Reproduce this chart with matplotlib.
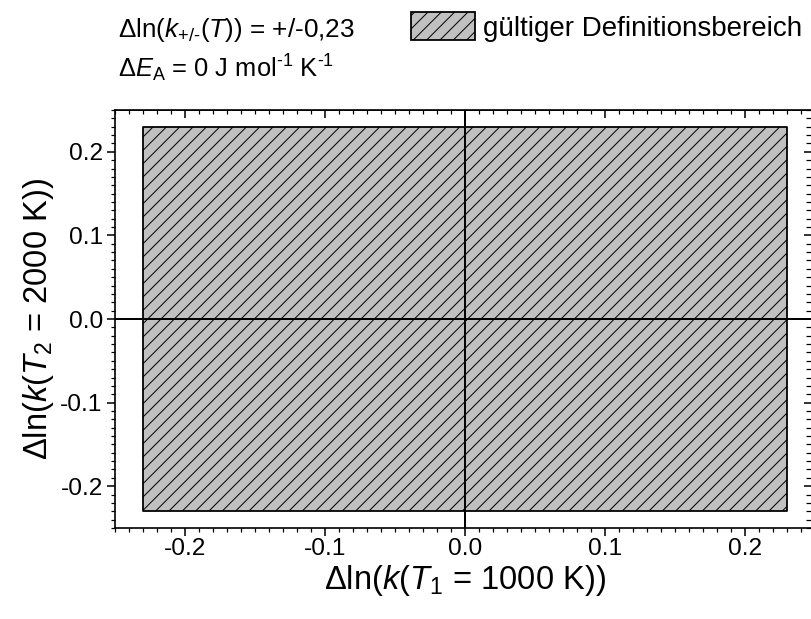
import matplotlib
matplotlib.use("Agg")
import matplotlib.pyplot as plt
from matplotlib.ticker import MultipleLocator

# data
delta_k = 0.23                  # +/- range of ln k
x_range = [-delta_k, delta_k]
y_lower = [-delta_k, -delta_k]
y_upper = [delta_k, delta_k]
x_limits = (-0.25, 0.25)
y_limits = (-0.25, 0.25)
x_ticks = [-0.2, -0.1, 0.0, 0.1, 0.2]
y_ticks = [-0.2, -0.1, 0.0, 0.1, 0.2]
line1 = r"$\Delta$ln($k_{\text{+/-}}$($T$)) = +/-0,23"
line2 = r"$\Delta E_{\mathrm{A}}$ = 0 J mol$^{\text{-1}}$ K$^{\text{-1}}$"
legend_label = "gültiger Definitionsbereich"
x_label = r"$\Delta$ln($k$($T_{1}$ = 1000 K))"
y_label = r"$\Delta$ln($k$($T_{2}$ = 2000 K))"

plt.rcParams["font.family"] = ["Liberation Sans", "DejaVu Sans"]
plt.rcParams["mathtext.fontset"] = "custom"
plt.rcParams["mathtext.rm"] = "Liberation Sans"
plt.rcParams["mathtext.it"] = "Liberation Sans:italic"
plt.rcParams["mathtext.bf"] = "Liberation Sans:bold"
plt.rcParams["hatch.linewidth"] = 0.9

dpi = 80
fig = plt.figure(figsize=(811 / dpi, 619 / dpi), dpi=dpi)
ax = fig.add_axes([115 / 811, 91 / 619, 700 / 811, 418 / 619])

area = ax.fill_between(x_range, y_lower, y_upper, facecolor="#c0c0c0",
                       edgecolor="black", hatch="//", linewidth=1.6,
                       label=legend_label, zorder=1)

ax.axhline(0, color="black", linewidth=1.8, zorder=2)
ax.axvline(0, color="black", linewidth=1.8, zorder=2)

ax.set_xlim(x_limits)
ax.set_ylim(y_limits)
ax.set_xticks(x_ticks)
ax.set_yticks(y_ticks)
ax.set_xticklabels([f"{t:.1f}" for t in x_ticks])
ax.set_yticklabels([f"{t:.1f}" for t in y_ticks])
ax.xaxis.set_minor_locator(MultipleLocator(0.01))
ax.yaxis.set_minor_locator(MultipleLocator(0.01))

for s in ax.spines.values():
    s.set_linewidth(1.5)

ax.tick_params(axis="both", which="major", labelsize=22, width=1.4, length=7, pad=2)
ax.tick_params(axis="y", which="major", pad=4)
ax.tick_params(axis="both", which="minor", width=1.1, length=4)
ax.tick_params(axis="x", which="both", direction="out", bottom=True, top=False)
ax.tick_params(axis="y", which="both", direction="out", left=True, right=False)

# top and right ticks point inward
top = ax.secondary_xaxis("top")
top.set_xticks(x_ticks)
top.xaxis.set_minor_locator(MultipleLocator(0.01))
top.tick_params(which="both", direction="in", labeltop=False)
top.tick_params(which="major", length=7, width=1.4)
top.tick_params(which="minor", length=4, width=1.1)
right = ax.secondary_yaxis("right")
right.set_yticks(y_ticks)
right.yaxis.set_minor_locator(MultipleLocator(0.01))
right.tick_params(which="both", direction="in", labelright=False)
right.tick_params(which="major", length=10, width=1.4)
right.tick_params(which="minor", length=8, width=1.1)

ax.set_xlabel(x_label, fontsize=29.5, labelpad=3)
ax.set_ylabel(y_label, fontsize=29.5, labelpad=4)

fig.text(118 / 811, 1 - 37 / 619, line1, fontsize=23.5, va="baseline")
fig.text(118 / 811, 1 - 77 / 619, line2, fontsize=23, va="baseline")

ax.legend(handles=[area], loc="upper left", bbox_to_anchor=(411 / 811, 1 - 12 / 619),
          bbox_transform=fig.transFigure, frameon=False, fontsize=25,
          borderpad=0, borderaxespad=0, handlelength=2.3, handleheight=1.2,
          handletextpad=0.28)

fig.savefig("out.png", dpi=dpi)
